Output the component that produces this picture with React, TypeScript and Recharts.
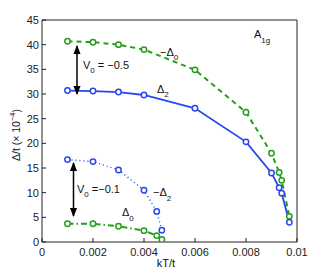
import React from 'react';
import { LineChart, Line, XAxis, YAxis } from 'recharts';

const xTicks = [0, 0.002, 0.004, 0.006, 0.008, 0.01];
const yTicks = [0, 5, 10, 15, 20, 25, 30, 35, 40, 45];

// V0 = -0.5 : -Delta0 (green dashed)
const negDelta0Strong = [
  { x: 0.001, y: 40.7 },
  { x: 0.002, y: 40.5 },
  { x: 0.003, y: 40.0 },
  { x: 0.004, y: 39.0 },
  { x: 0.006, y: 34.9 },
  { x: 0.008, y: 26.3 },
  { x: 0.009, y: 18.0 },
  { x: 0.0093, y: 14.1 },
  { x: 0.0094, y: 12.5 },
  { x: 0.0097, y: 5.2 },
];

// V0 = -0.5 : Delta2 (blue solid)
const delta2Strong = [
  { x: 0.001, y: 30.7 },
  { x: 0.002, y: 30.6 },
  { x: 0.003, y: 30.4 },
  { x: 0.004, y: 29.8 },
  { x: 0.006, y: 27.1 },
  { x: 0.008, y: 20.3 },
  { x: 0.009, y: 14.0 },
  { x: 0.0093, y: 11.0 },
  { x: 0.0094, y: 9.9 },
  { x: 0.0097, y: 4.0 },
];

// V0 = -0.1 : -Delta2 (blue dotted)
const negDelta2Weak = [
  { x: 0.001, y: 16.7 },
  { x: 0.002, y: 16.3 },
  { x: 0.003, y: 14.6 },
  { x: 0.004, y: 10.5 },
  { x: 0.0045, y: 6.2 },
  { x: 0.0047, y: 2.4 },
];

// V0 = -0.1 : Delta0 (green dash-dot)
const delta0Weak = [
  { x: 0.001, y: 3.7 },
  { x: 0.002, y: 3.7 },
  { x: 0.003, y: 3.2 },
  { x: 0.004, y: 2.3 },
  { x: 0.0045, y: 1.3 },
  { x: 0.0047, y: 0.5 },
];

const GREEN = '#22a01a';
const BLUE = '#2a46f2';
const FONT = '"Liberation Sans", Arial, sans-serif';

const fmtX = (v: number) => (v === 0 ? '0' : String(v));
const tickStyle = { fontSize: 11, fill: '#222', fontFamily: FONT };
const axisLine = { stroke: '#222', strokeWidth: 1 };
const emptyTick = () => <g />;

const dot = (color: string) => ({ r: 2.7, stroke: color, strokeWidth: 1.5, fill: '#fff', strokeDasharray: 'none' });

export default function App() {
  return (
    <div style={{ position: 'absolute', left: 0, top: 0, width: 327, height: 273, background: '#fff' }}>
      <LineChart
        width={327}
        height={273}
        margin={{ top: 19, right: 29, bottom: 1, left: 2 }}
      >
        <XAxis
          dataKey="x"
          type="number"
          domain={[0, 0.01]}
          ticks={xTicks}
          tickFormatter={fmtX}
          tickSize={-4}
          tickMargin={10}
          height={30}
          axisLine={axisLine}
          tickLine={axisLine}
          tick={tickStyle}
          allowDataOverflow
        />
        <XAxis
          xAxisId="top"
          orientation="top"
          type="number"
          domain={[0, 0.01]}
          ticks={xTicks}
          tickSize={-4}
          height={1}
          axisLine={axisLine}
          tickLine={axisLine}
          tick={emptyTick}
        />
        <YAxis
          type="number"
          domain={[0, 45]}
          ticks={yTicks}
          tickSize={-4}
          tickMargin={7}
          width={40}
          axisLine={axisLine}
          tickLine={axisLine}
          tick={tickStyle}
          allowDataOverflow
        />
        <YAxis
          yAxisId="right"
          orientation="right"
          type="number"
          domain={[0, 45]}
          ticks={yTicks}
          tickSize={-4}
          width={1}
          axisLine={axisLine}
          tickLine={axisLine}
          tick={emptyTick}
        />
        <Line
          data={negDelta0Strong}
          dataKey="y"
          stroke={GREEN}
          strokeWidth={2}
          strokeDasharray="5 4"
          dot={dot(GREEN)}
          isAnimationActive={false}
        />
        <Line
          data={delta2Strong}
          dataKey="y"
          stroke={BLUE}
          strokeWidth={1.8}
          dot={dot(BLUE)}
          isAnimationActive={false}
        />
        <Line
          data={negDelta2Weak}
          dataKey="y"
          stroke={BLUE}
          strokeWidth={1.5}
          strokeDasharray="1 3"
          dot={dot(BLUE)}
          isAnimationActive={false}
        />
        <Line
          data={delta0Weak}
          dataKey="y"
          stroke={GREEN}
          strokeWidth={2}
          strokeDasharray="6 3 1.5 3"
          dot={dot(GREEN)}
          isAnimationActive={false}
        />
      </LineChart>
      <svg
        width={327}
        height={273}
        style={{ position: 'absolute', left: 0, top: 0, pointerEvents: 'none' }}
        fontFamily={FONT}
        fill="#111"
      >
        <defs>
          <marker id="ah" viewBox="0 0 10 10" refX="9" refY="5" markerWidth="6" markerHeight="6" orient="auto-start-reverse">
            <path d="M0,1 L10,5 L0,9 z" fill="#000" />
          </marker>
        </defs>
        <line x1={77} y1={46} x2={77} y2={94} stroke="#000" strokeWidth={1.5} markerStart="url(#ah)" markerEnd="url(#ah)" />
        <line x1={73.5} y1={163} x2={73.5} y2={216} stroke="#000" strokeWidth={1.5} markerStart="url(#ah)" markerEnd="url(#ah)" />
        <text x={83} y={69} fontSize={11}>V<tspan fontSize={8} dy={4}>0</tspan><tspan dy={-4}> = −0.5</tspan></text>
        <text x={77} y={193} fontSize={11}>V<tspan fontSize={8} dy={4}>0</tspan><tspan dy={-4}> =−0.1</tspan></text>
        <text x={160} y={56} fontSize={11}>−Δ<tspan fontSize={8} dy={4}>0</tspan></text>
        <text x={157} y={93} fontSize={11}>Δ<tspan fontSize={8} dy={4}>2</tspan></text>
        <text x={153} y={196} fontSize={11}>−Δ<tspan fontSize={8} dy={5}>2</tspan></text>
        <text x={122} y={216} fontSize={11}>Δ<tspan fontSize={8} dy={5}>0</tspan></text>
        <text x={254} y={38} fontSize={11}>A<tspan fontSize={8} dy={5}>1g</tspan></text>
        <text x={166} y={267} fontSize={11} textAnchor="middle">kT/t</text>
        <text
          transform="translate(20,135) rotate(-90)"
          fontSize={10.5}
          textAnchor="middle"
        >
          Δ/t (× 10<tspan fontSize={7.5} dy={-5}>−4</tspan><tspan dy={5}>)</tspan>
        </text>
      </svg>
    </div>
  );
}
